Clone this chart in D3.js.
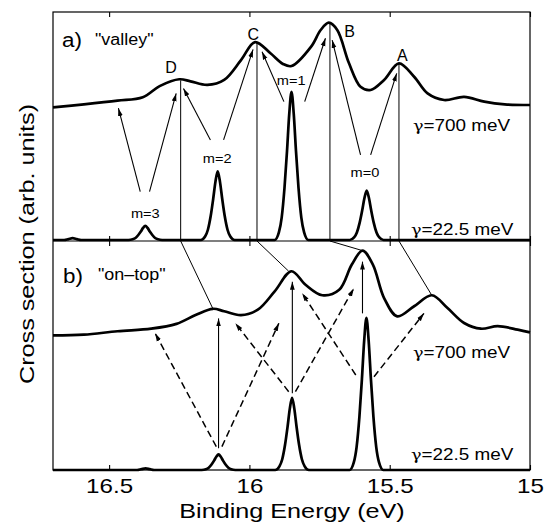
<!DOCTYPE html>
<html>
<head>
<meta charset="utf-8">
<script src="https://cdn.jsdelivr.net/npm/d3@7"></script>
<style>
  body { margin: 0; background: #fff; }
  text { font-family: "Liberation Sans", Arial, Helvetica, sans-serif; fill: #000; }
</style>
</head>
<body>
<div id="canvas"></div>
<script>
"use strict"

/* Data: binding energy (eV) and intensity (arb. units, 0 = baseline, 1 = panel top) */
let xTicks = [16.5, 16, 15.5, 15];

// a) "valley", gamma = 700 meV
let broadA = [
  [16.70, 0.582], [16.59, 0.595], [16.47, 0.611], [16.38, 0.626], [16.32, 0.675],
  [16.25, 0.705], [16.21, 0.696], [16.15, 0.680], [16.09, 0.702], [16.03, 0.789],
  [15.98, 0.868], [15.925, 0.819], [15.88, 0.772], [15.85, 0.763], [15.78, 0.848],
  [15.746, 0.921], [15.717, 0.953], [15.687, 0.921], [15.645, 0.775], [15.604, 0.672],
  [15.568, 0.658], [15.52, 0.702], [15.467, 0.775], [15.413, 0.716], [15.365, 0.643],
  [15.306, 0.614], [15.235, 0.628], [15.163, 0.607], [15.09, 0.595], [15.0, 0.592]
];

// a) "valley", gamma = 22.5 meV
let narrowA = [
  [16.70, 0], [16.66, 0], [16.645, 0.004], [16.63, 0.008], [16.615, 0.004], [16.60, 0],
  [16.431, 0], [16.416, 0.003], [16.406, 0.009], [16.396, 0.022], [16.387, 0.037], [16.379, 0.053],
  [16.371, 0.062], [16.363, 0.053], [16.355, 0.037], [16.346, 0.022], [16.336, 0.009], [16.326, 0.003], [16.311, 0],
  [16.173, 0], [16.158, 0.015], [16.148, 0.045], [16.138, 0.105], [16.129, 0.181], [16.121, 0.256],
  [16.113, 0.301], [16.105, 0.256], [16.097, 0.181], [16.088, 0.105], [16.078, 0.045], [16.068, 0.015], [16.053, 0],
  [15.91, 0], [15.895, 0.033], [15.885, 0.098], [15.875, 0.228], [15.866, 0.39], [15.858, 0.553],
  [15.85, 0.65], [15.842, 0.553], [15.834, 0.39], [15.825, 0.228], [15.815, 0.098], [15.805, 0.033], [15.79, 0],
  [15.642, 0], [15.627, 0.011], [15.617, 0.033], [15.607, 0.076], [15.598, 0.130], [15.590, 0.184],
  [15.582, 0.217], [15.574, 0.184], [15.566, 0.130], [15.557, 0.076], [15.547, 0.033], [15.537, 0.011], [15.522, 0],
  [15.0, 0]
];

// b) "on-top", gamma = 700 meV
let broadB = [
  [16.70, 0.588], [16.59, 0.591], [16.47, 0.606], [16.35, 0.617], [16.26, 0.638],
  [16.19, 0.678], [16.13, 0.704], [16.09, 0.693], [16.03, 0.676], [15.97, 0.700],
  [15.91, 0.780], [15.85, 0.868], [15.80, 0.809], [15.74, 0.763], [15.68, 0.787],
  [15.635, 0.897], [15.597, 0.958], [15.56, 0.897], [15.52, 0.751], [15.473, 0.671],
  [15.413, 0.715], [15.35, 0.763], [15.294, 0.707], [15.235, 0.642], [15.175, 0.617],
  [15.115, 0.628], [15.044, 0.613], [15.0, 0.601]
];

// b) "on-top", gamma = 22.5 meV
let narrowB = [
  [16.70, 0], [16.40, 0], [16.385, 0.0035], [16.37, 0.007], [16.355, 0.0035], [16.34, 0],
  [16.17, 0], [16.155, 0.003], [16.145, 0.010], [16.135, 0.024], [16.126, 0.041], [16.118, 0.058],
  [16.11, 0.068], [16.102, 0.058], [16.094, 0.041], [16.085, 0.024], [16.075, 0.010], [16.065, 0.003], [16.05, 0],
  [15.908, 0], [15.893, 0.016], [15.883, 0.047], [15.873, 0.110], [15.864, 0.189], [15.856, 0.268],
  [15.848, 0.315], [15.84, 0.268], [15.832, 0.189], [15.823, 0.110], [15.813, 0.047], [15.803, 0.016], [15.788, 0],
  [15.643, 0], [15.628, 0.033], [15.618, 0.10], [15.608, 0.232], [15.599, 0.398], [15.591, 0.564],
  [15.583, 0.664], [15.575, 0.564], [15.567, 0.398], [15.558, 0.232], [15.548, 0.10], [15.538, 0.033], [15.523, 0],
  [15.0, 0]
];

// peaks D, C, B, A of panel a and where they move to in panel b
let peakNames = ["D", "C", "B", "A"];
let peaksA = [[16.245, 0.70], [15.973, 0.868], [15.713, 0.953], [15.467, 0.772]];
let peaksB = [[16.13, 0.704], [15.86, 0.868], [15.597, 0.958], [15.35, 0.763]];
let peakNamePos = [[16.279, 0.731], [15.986, 0.877], [15.643, 0.892], [15.455, 0.785]];

let mNames = ["m=3", "m=2", "m=1", "m=0"];
let mNamePos = [[16.371, 0.096], [16.115, 0.338], [15.851, 0.680], [15.588, 0.278]];

let gammaLabels = ["700 meV", "22.5 meV"];

// arrows: [tail E, tail I, tip E, tip I]
let arrowsA = [
  [16.389, 0.212, 16.467, 0.578],
  [16.356, 0.212, 16.261, 0.643],
  [16.139, 0.439, 16.235, 0.665],
  [16.092, 0.439, 15.987, 0.836],
  [15.877, 0.607, 15.955, 0.826],
  [15.803, 0.607, 15.729, 0.885],
  [15.604, 0.373, 15.705, 0.877],
  [15.568, 0.373, 15.475, 0.731]
];
let solidArrowsB = [
  [16.110, 0.095, 16.110, 0.662],
  [15.847, 0.335, 15.847, 0.822],
  [15.597, 0.684, 15.597, 0.91]
];
let dashedArrowsB = [
  [16.118, 0.102, 16.336, 0.597],
  [16.098, 0.102, 15.895, 0.641],
  [15.860, 0.342, 16.05, 0.641],
  [15.836, 0.342, 15.628, 0.793],
  [15.621, 0.415, 15.812, 0.772],
  [15.556, 0.407, 15.378, 0.684]
];

/* Drawing configuration */
let svgWidth = 550;
let svgHeight = 527;
let plotLeft = 53, plotRight = 530, plotTop = 12, plotMid = 241, plotBottom = 470;

let svg = d3.select("#canvas")
    .append("svg")
    .attr("width", svgWidth)
    .attr("height", svgHeight);

svg.append("defs").append("marker")
    .attr("id", "head")
    .attr("viewBox", "0 -3 8 6")
    .attr("refX", 8)
    .attr("refY", 0)
    .attr("markerWidth", 8)
    .attr("markerHeight", 6)
    .attr("markerUnits", "userSpaceOnUse")
    .attr("orient", "auto")
  .append("path")
    .attr("d", "M0,-2.4L8,0L0,2.4Z")
    .attr("fill", "black");

let xScale = d3.scaleLinear().domain([16.7, 15]).range([plotLeft, plotRight]);
let yA = d3.scaleLinear().domain([0, 1]).range([plotMid - 1, plotTop]);
let yB = d3.scaleLinear().domain([0, 1]).range([plotBottom, plotMid]);

function lineFor(y, curve) {
  return d3.line()
    .x(d => xScale(d[0]))
    .y(d => y(d[1]))
    .curve(curve);
}

function widen(sel, k) {
  sel.each(function () {
    let w = this.getComputedTextLength();
    d3.select(this).attr("textLength", w * k).attr("lengthAdjust", "spacingAndGlyphs");
  });
}

/* thin guide lines */
svg.append("g").selectAll("line")
    .data(peaksA)
    .join("line")
    .attr("x1", d => xScale(d[0]))
    .attr("x2", d => xScale(d[0]))
    .attr("y1", d => yA(d[1]))
    .attr("y2", yA(0))
    .attr("stroke", "black")
    .attr("stroke-width", 1);

svg.append("g").selectAll("line")
    .data(peaksA)
    .join("line")
    .attr("x1", d => xScale(d[0]))
    .attr("y1", plotMid)
    .attr("x2", (d, i) => xScale(peaksB[i][0]))
    .attr("y2", (d, i) => yB(peaksB[i][1]))
    .attr("stroke", "black")
    .attr("stroke-width", 1);

/* arrows */
function drawArrows(data, y, dashed) {
  svg.append("g").selectAll("line")
      .data(data)
      .join("line")
      .attr("x1", d => xScale(d[0]))
      .attr("y1", d => y(d[1]))
      .attr("x2", d => xScale(d[2]))
      .attr("y2", d => y(d[3]))
      .attr("stroke", "black")
      .attr("stroke-width", dashed ? 1.5 : 1.1)
      .attr("stroke-dasharray", dashed ? "7,4" : null)
      .attr("marker-end", "url(#head)");
}
drawArrows(arrowsA, yA, false);
drawArrows(solidArrowsB, yB, false);
drawArrows(dashedArrowsB, yB, true);

/* spectra */
[[broadA, yA, d3.curveCatmullRom], [narrowA, yA, d3.curveMonotoneX],
 [broadB, yB, d3.curveCatmullRom], [narrowB, yB, d3.curveMonotoneX]].forEach(([data, y, curve]) => {
  svg.append("path")
      .datum(data)
      .attr("d", lineFor(y, curve))
      .attr("fill", "none")
      .attr("stroke", "black")
      .attr("stroke-width", 2.7)
      .attr("stroke-linejoin", "round");
});

/* frame, divider and inward ticks */
svg.append("rect")
    .attr("x", plotLeft).attr("y", plotTop)
    .attr("width", plotRight - plotLeft).attr("height", plotBottom - plotTop)
    .attr("fill", "none").attr("stroke", "black").attr("stroke-width", 1.2);
svg.append("line")
    .attr("x1", plotLeft).attr("x2", plotRight).attr("y1", plotMid).attr("y2", plotMid)
    .attr("stroke", "black").attr("stroke-width", 1.2);

function tickAxis(axis, y) {
  let g = svg.append("g")
      .attr("transform", "translate(0," + y + ")")
      .call(axis);
  g.select(".domain").remove();
  g.selectAll(".tick line").attr("stroke-width", 1.1);
  return g;
}
tickAxis(d3.axisTop(xScale).tickValues(xTicks).tickSize(-5).tickFormat(""), plotTop);
tickAxis(d3.axisBottom(xScale).tickValues(xTicks).tickSize(-5).tickFormat(""), plotMid);
tickAxis(d3.axisTop(xScale).tickValues(xTicks).tickSize(-5).tickFormat(""), plotMid);
let xAxis = tickAxis(d3.axisBottom(xScale).tickValues(xTicks).tickSize(-5).tickPadding(8)
    .tickFormat(d3.format("")), plotBottom);
xAxis.selectAll("text")
    .attr("font-size", 21)
    .style("font-family", "'Liberation Sans', Arial, sans-serif");
widen(xAxis.selectAll("text"), 1.15);

/* axis titles */
let xTitle = svg.append("text")
    .attr("x", 292).attr("y", 518)
    .attr("text-anchor", "middle")
    .attr("font-size", 21)
    .text("Binding Energy (eV)");
widen(xTitle, 1.2);

let yTitle = svg.append("text")
    .attr("transform", "rotate(-90)")
    .attr("x", -244).attr("y", 34)
    .attr("text-anchor", "middle")
    .attr("font-size", 21)
    .text("Cross section (arb. units)");
widen(yTitle, 1.2);

/* panel tags */
let tags = svg.append("g");
tags.append("text").attr("x", 62).attr("y", 46.5).attr("font-size", 20).text("a)");
tags.append("text").attr("x", 95).attr("y", 45).attr("font-size", 16).text("\"valley\"");
tags.append("text").attr("x", 63).attr("y", 283).attr("font-size", 20).text("b)");
tags.append("text").attr("x", 98).attr("y", 280).attr("font-size", 16).text("\"on\u2013top\"");
widen(tags.selectAll("text"), 1.12);

/* broadening labels: gamma glyph from a serif font so it reads as a Greek letter */
let gammaRows = [[413, 130.5, 0], [411, 235, 1], [413, 358, 0], [411, 460, 1]];
let gammas = svg.append("g").attr("font-size", 16);
gammaRows.forEach(([x, y, k]) => {
  let t = gammas.append("text").attr("x", x).attr("y", y);
  t.append("tspan").style("font-family", "'DejaVu Serif', 'Liberation Serif', serif")
      .attr("font-size", 15).text("\u03b3");
  t.append("tspan").text("=" + gammaLabels[k]);
});
widen(gammas.selectAll("text"), 1.18);

/* peak letters and m labels */
svg.append("g").selectAll("text")
    .data(peakNames)
    .join("text")
    .attr("x", (d, i) => xScale(peakNamePos[i][0]))
    .attr("y", (d, i) => yA(peakNamePos[i][1]))
    .attr("text-anchor", "middle")
    .attr("font-size", 16)
    .text(d => d);

let mText = svg.append("g").selectAll("text")
    .data(mNames)
    .join("text")
    .attr("x", (d, i) => xScale(mNamePos[i][0]))
    .attr("y", (d, i) => yA(mNamePos[i][1]))
    .attr("text-anchor", "middle")
    .attr("font-size", 13.5)
    .text(d => d);
widen(mText, 1.08);
</script>
</body>
</html>
